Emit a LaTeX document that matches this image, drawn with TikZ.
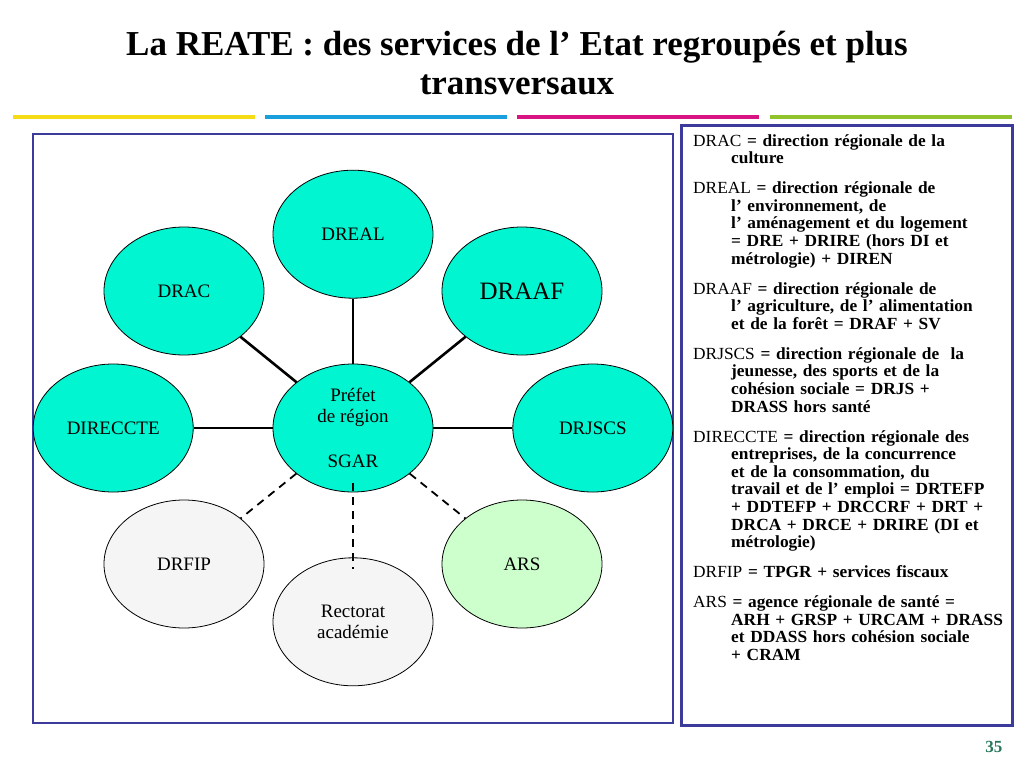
\documentclass[tikz,border=0pt]{standalone}
\usepackage{fontspec}
\setmainfont{Liberation Serif}
\newfontfamily\glossfont[FakeStretch=1.02]{Liberation Serif}
\usetikzlibrary{shapes.geometric,positioning}
\definecolor{turq}{RGB}{0,245,208}
\definecolor{palegrey}{RGB}{245,245,245}
\definecolor{palegreen}{RGB}{204,255,204}
\definecolor{framecol}{RGB}{60,58,155}
\definecolor{pagegreen}{RGB}{40,120,90}
\definecolor{barYellow}{RGB}{245,220,20}
\definecolor{barBlue}{RGB}{25,160,220}
\definecolor{barMagenta}{RGB}{215,20,130}
\definecolor{barGreen}{RGB}{145,195,45}
\tikzset{
  service/.style = {draw, ellipse, minimum width=160pt, minimum height=128pt,
                    inner sep=0pt, line width=0.8pt, align=center,
                    font=\fontsize{19}{21.5}\selectfont},
  core/.style    = {service, fill=turq},
  outer/.style   = {service, fill=palegrey},
  health/.style  = {service, fill=palegreen},
  link/.style    = {line width=2.6pt},
  loose/.style   = {line width=1.8pt, dash pattern=on 8pt off 6pt}
}
\newcommand{\glossitem}[2]{\hangindent=38pt\hangafter=1 #1 \textbf{#2}\par}

\begin{document}
\begin{tikzpicture}[x=1pt, y=-1pt]
\fill[white] (0,0) rectangle (1024,768);
\useasboundingbox (0,0) rectangle (1024,768);

% title and the coloured rule
\node[align=center, font=\bfseries\fontsize{35}{39}\selectfont, anchor=north] (title) at (517,28)
  {La REATE : des services de l’ Etat regroupés et plus\\transversaux};
\foreach \col/\xa in {barYellow/13, barBlue/265, barMagenta/517, barGreen/770}
  \draw[\col, line width=4pt] (\xa,117) -- ++(242,0);

% frames
\draw[framecol, line width=2.2pt] (33,134) rectangle (673,723);
\draw[framecol, line width=3pt] (681,125) rectangle (1012,725);

% the services round the prefect
\node[core] (prefet) at (353,428) {Préfet\\de région\\[23.5pt]SGAR};
\node[core, above=65pt of prefet] (dreal) {DREAL};
\node[core, left=79pt of prefet] (direccte) {DIRECCTE};
\node[core, right=79pt of prefet] (drjscs) {DRJSCS};
\node[core] (drac) at (184,291) {DRAC};
\node[core, font=\fontsize{25}{28}\selectfont] (draaf) at (522,291) {DRAAF};
\node[outer] (drfip) at (184,564) {DRFIP};
\node[outer, below=65pt of prefet] (rectorat) {Rectorat\\académie};
\node[health] (ars) at (522,564) {ARS};

\foreach \s in {drac,dreal,draaf,direccte,drjscs}
  \draw[link] (prefet) -- (\s);
\foreach \s in {drfip,ars}
  \draw[loose] (prefet) -- (\s);
\draw[loose] ([yshift=9pt]prefet.south) -- ([yshift=-12pt]rectorat.north);

% glossary
\node[anchor=north west, text width=350pt, inner sep=0pt,
      font=\glossfont\fontsize{17}{17.6}\selectfont] (gloss) at (693,134)
{\raggedright\parskip=12.4pt
\glossitem{DRAC}{= direction régionale de la\newline culture}
\glossitem{DREAL}{= direction régionale de\newline l’ environnement, de\newline l’ aménagement et du logement\newline = DRE + DRIRE (hors DI et\newline métrologie) + DIREN}
\glossitem{DRAAF}{= direction régionale de\newline l’ agriculture, de l’ alimentation\newline et de la forêt = DRAF + SV}
\glossitem{DRJSCS}{= direction régionale de~ la\newline jeunesse, des sports et de la\newline cohésion sociale = DRJS +\newline DRASS hors santé}
\glossitem{DIRECCTE}{= direction régionale des\newline entreprises, de la concurrence\newline et de la consommation, du\newline travail et de l’ emploi = DRTEFP\newline + DDTEFP + DRCCRF + DRT +\newline DRCA + DRCE + DRIRE (DI et\newline métrologie)}
\glossitem{DRFIP}{= TPGR + services fiscaux}
\glossitem{ARS}{= agence régionale de santé =\newline ARH + GRSP + URCAM + DRASS\newline et DDASS hors cohésion sociale\newline + CRAM}};

\node[anchor=base east, text=pagegreen, font=\bfseries\fontsize{17}{17}\selectfont] (pagenum) at (1006,752) {35};
\end{tikzpicture}
\end{document}
